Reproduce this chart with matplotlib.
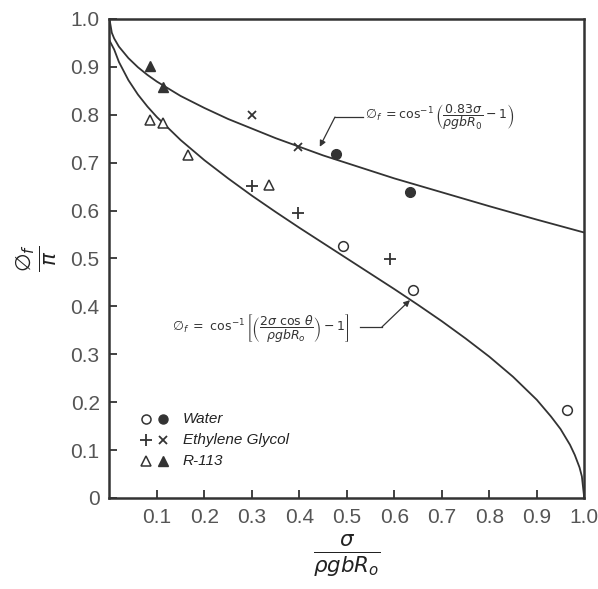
import numpy as np
import matplotlib
matplotlib.use("Agg")
import matplotlib.pyplot as plt

# curves
upper_x = [0.0, 0.005, 0.01, 0.02, 0.04, 0.06, 0.08, 0.1, 0.15, 0.2, 0.25, 0.3, 0.35, 0.4, 0.45,
           0.5, 0.6, 0.7, 0.8, 0.9, 1.0]
upper_y = [1.0, 0.971, 0.959, 0.942, 0.918, 0.899, 0.883, 0.869, 0.839, 0.814, 0.791, 0.771,
           0.751, 0.733, 0.715, 0.699, 0.667, 0.638, 0.609, 0.581, 0.554]
lower_x = [0.0, 0.01, 0.02, 0.04, 0.06, 0.08, 0.1, 0.15, 0.2, 0.25, 0.3, 0.35, 0.4, 0.45,
           0.5, 0.55, 0.6, 0.65, 0.7, 0.75, 0.8, 0.85, 0.9, 0.93, 0.95, 0.97, 0.98, 0.99,
           0.995, 1.0]
lower_y = [0.955, 0.936, 0.910, 0.872, 0.842, 0.817, 0.795, 0.747, 0.705, 0.667, 0.631,
           0.597, 0.564, 0.532, 0.5, 0.468, 0.436, 0.403, 0.369, 0.333, 0.295, 0.253,
           0.205, 0.170, 0.144, 0.111, 0.090, 0.064, 0.045, 0.0]

# measured points
water_open_x = [0.492, 0.640, 0.963]
water_open_y = [0.526, 0.434, 0.184]
water_fill_x = [0.478, 0.634]
water_fill_y = [0.717, 0.638]
glycol_plus_x = [0.301, 0.397, 0.591]
glycol_plus_y = [0.651, 0.594, 0.498]
glycol_x_x = [0.301, 0.397]
glycol_x_y = [0.800, 0.733]
r113_open_x = [0.085, 0.112, 0.166, 0.336]
r113_open_y = [0.789, 0.782, 0.715, 0.653]
r113_fill_x = [0.085, 0.112]
r113_fill_y = [0.902, 0.857]

x_ticks = [0.1, 0.2, 0.3, 0.4, 0.5, 0.6, 0.7, 0.8, 0.9, 1.0]
y_ticks = [0, 0.1, 0.2, 0.3, 0.4, 0.5, 0.6, 0.7, 0.8, 0.9, 1.0]
legend_names = ["Water", "Ethylene Glycol", "R-113"]

ink = "#333333"

fig = plt.figure(figsize=(5.98, 5.89), dpi=100)
ax = fig.add_axes([0.183, 0.1545, 0.794, 0.8135])

ax.plot(upper_x, upper_y, color=ink, lw=1.3)
ax.plot(lower_x, lower_y, color=ink, lw=1.3)

ms = 7
ax.plot(water_open_x, water_open_y, "o", ms=ms, mfc="white", mec=ink, mew=1.1, ls="none")
ax.plot(water_fill_x, water_fill_y, "o", ms=ms, mfc=ink, mec=ink, ls="none")
ax.plot(glycol_plus_x, glycol_plus_y, "+", ms=8, mec=ink, mew=1.3, ls="none")
ax.plot(glycol_x_x, glycol_x_y, "x", ms=6, mec=ink, mew=1.3, ls="none")
ax.plot(r113_open_x, r113_open_y, "^", ms=ms, mfc="white", mec=ink, mew=1.1, ls="none")
ax.plot(r113_fill_x, r113_fill_y, "^", ms=ms, mfc=ink, mec=ink, ls="none")

# legend drawn by hand
leg_y = [0.165, 0.121, 0.077]
for i, name in enumerate(legend_names):
    if i == 1:
        ax.plot([0.077], [leg_y[i]], "+", ms=8, mec=ink, mew=1.3)
        ax.plot([0.113], [leg_y[i]], "x", ms=6, mec=ink, mew=1.3)
    else:
        m = "o" if i == 0 else "^"
        ax.plot([0.077], [leg_y[i]], m, ms=6.5, mfc="white", mec=ink, mew=1.1)
        ax.plot([0.113], [leg_y[i]], m, ms=6.5, mfc=ink, mec=ink)
    ax.text(0.155, leg_y[i], name, fontsize=11, style="italic", color="#222222",
            family=["Liberation Sans", "DejaVu Sans"], va="center", ha="left")

# formula annotations
ax.text(0.538, 0.795, r"$\varnothing_f\ =\cos^{-1}\left(\dfrac{0.83\sigma}{\rho g b R_0}-1\right)$",
        fontsize=9, color=ink, va="center", ha="left")
ax.plot([0.534, 0.475], [0.795, 0.795], color=ink, lw=0.9)
ax.annotate("", xy=(0.443, 0.733), xytext=(0.475, 0.795),
            arrowprops=dict(arrowstyle="-|>", color=ink, lw=0.9, mutation_scale=9,
                            shrinkA=0, shrinkB=0))

ax.text(0.506, 0.355,
        r"$\varnothing_f\ =\ \cos^{-1}\left[\left(\dfrac{2\sigma\ \cos\,\theta}{\rho g b R_o}\right)-1\right]$",
        fontsize=9, color=ink, va="center", ha="right")
ax.plot([0.527, 0.574], [0.357, 0.357], color=ink, lw=0.9)
ax.annotate("", xy=(0.633, 0.413), xytext=(0.574, 0.357),
            arrowprops=dict(arrowstyle="-|>", color=ink, lw=0.9, mutation_scale=9,
                            shrinkA=0, shrinkB=0))

ax.set_xlim(0, 1)
ax.set_ylim(0, 1)
ax.set_xticks(x_ticks)
ax.set_xticklabels(["0.1", "0.2", "0.3", "0.4", "0.5", "0.6", "0.7", "0.8", "0.9", "1.0"])
ax.set_yticks(y_ticks)
ax.set_yticklabels(["0", "0.1", "0.2", "0.3", "0.4", "0.5", "0.6", "0.7", "0.8", "0.9", "1.0"])
ax.tick_params(direction="in", length=6, width=1.3, color=ink, labelsize=15,
               labelcolor="#555555", pad=7)
for lab in ax.get_xticklabels() + ax.get_yticklabels():
    lab.set_family(["Liberation Sans", "DejaVu Sans"])
for sp in ax.spines.values():
    sp.set_linewidth(1.8)
    sp.set_color(ink)

ax.set_xlabel(r"$\frac{\sigma}{\rho g b R_o}$", fontsize=22, color="#222222", labelpad=4)
ax.set_ylabel(r"$\frac{\varnothing_f}{\pi}$", fontsize=22, color="#222222", labelpad=8)

fig.savefig("out.png", dpi=100)
